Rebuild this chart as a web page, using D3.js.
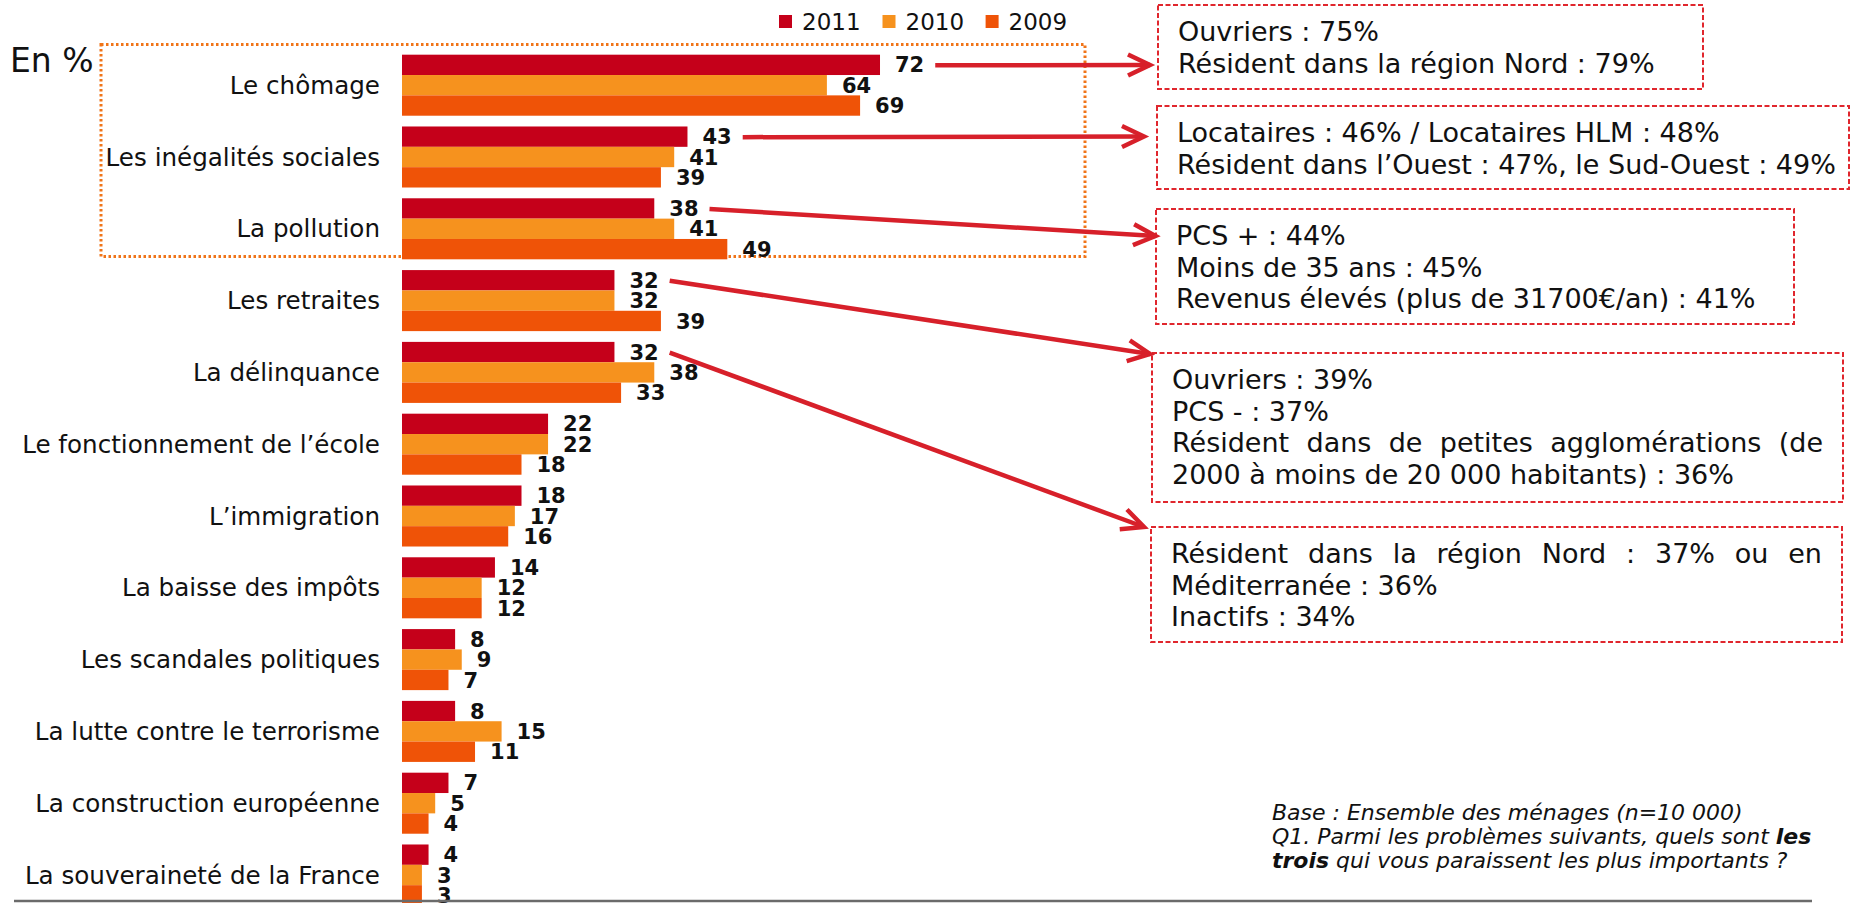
<!DOCTYPE html>
<html>
<head>
<meta charset="utf-8">
<script src="https://cdn.jsdelivr.net/npm/d3@7"></script>
<style>
  body { margin: 0; background: #fff; }
  svg { display: block; font-family: "DejaVu Sans", Verdana, sans-serif; }
</style>
</head>
<body>
<svg id="chart" width="1860" height="903"></svg>
<script>
// data
var categories = ["Le chômage", "Les inégalités sociales", "La pollution", "Les retraites",
  "La délinquance", "Le fonctionnement de l’école", "L’immigration", "La baisse des impôts",
  "Les scandales politiques", "La lutte contre le terrorisme", "La construction européenne",
  "La souveraineté de la France"];
var years = ["2011", "2010", "2009"];
var v2011 = [72, 43, 38, 32, 32, 22, 18, 14, 8, 8, 7, 4];
var v2010 = [64, 41, 41, 32, 38, 22, 17, 12, 9, 15, 5, 3];
var v2009 = [69, 39, 49, 39, 33, 18, 16, 12, 7, 11, 4, 3];
var colors = ["#c5001a", "#f6921e", "#ef5307"];

// callout texts, one box per highlighted category (2011 bar)
var calloutText = [
  ["Ouvriers : 75%", "Résident dans la région Nord : 79%"],
  ["Locataires : 46% / Locataires HLM : 48%", "Résident dans l’Ouest : 47%, le Sud-Ouest : 49%"],
  ["PCS + : 44%", "Moins de 35 ans : 45%", "Revenus élevés (plus de 31700€/an) : 41%"],
  ["Ouvriers : 39%", "PCS - : 37%", "Résident dans de petites agglomérations (de", "2000 à moins de 20 000 habitants) : 36%"],
  ["Résident dans la région Nord : 37% ou en", "Méditerranée : 36%", "Inactifs : 34%"]
];
var calloutJustify = [[], [], [], [2], [0]];
var footLines = [
  [["Base : Ensemble des ménages (n=10 000)", false]],
  [["Q1. Parmi les problèmes suivants, quels sont ", false], ["les", true]],
  [["trois", true], [" qui vous paraissent les plus importants ?", false]]
];

var svg = d3.select("#chart");
var series = [v2011, v2010, v2009];

var x = d3.scaleLinear().domain([0, 100]).range([402, 1065.9]);
var y = d3.scaleBand().domain(categories)
    .range([49.3, 49.3 + 12 * 71.8])
    .paddingInner(0.15).paddingOuter(0.075);
var yi = d3.scaleBand().domain(years).range([0, y.bandwidth()]);

// highlight frame round the top three
svg.append("rect")
    .attr("x", 101).attr("y", 44.5).attr("width", 984).attr("height", 212)
    .attr("fill", "none").attr("stroke", "#f07418")
    .attr("stroke-width", 3).attr("stroke-dasharray", "2.5,2.5");

// bars
var group = svg.selectAll("g.cat")
    .data(categories)
  .enter().append("g")
    .attr("class", "cat")
    .attr("transform", function(d) { return "translate(0," + y(d) + ")"; });

years.forEach(function(yr, j) {
  group.append("rect")
      .attr("x", x(0))
      .attr("y", yi(yr))
      .attr("width", function(d, i) { return x(series[j][i]) - x(0); })
      .attr("height", yi.bandwidth())
      .attr("fill", colors[j]);

  group.append("text")
      .attr("class", "val" + j)
      .attr("x", function(d, i) { return x(series[j][i]) + 15; })
      .attr("y", yi(yr) + yi.bandwidth() / 2 + 7.6)
      .attr("font-size", 21).attr("font-weight", "bold").attr("fill", "#111")
      .text(function(d, i) { return series[j][i]; });
});

// category labels
group.append("text")
    .attr("x", 380)
    .attr("y", y.bandwidth() / 2 + 8.6)
    .attr("text-anchor", "end")
    .attr("font-size", 24.6).attr("fill", "#111")
    .text(function(d) { return d; });

svg.append("text").attr("x", 10).attr("y", 72)
    .attr("font-size", 33).attr("fill", "#111").text("En %");

// legend
var legX = [779, 882.5, 985.6];
years.forEach(function(yr, j) {
  svg.append("rect").attr("x", legX[j]).attr("y", 15)
      .attr("width", 13).attr("height", 13).attr("fill", colors[j]);
  svg.append("text").attr("x", legX[j] + 23).attr("y", 29.5)
      .attr("font-size", 23).attr("fill", "#111").text(yr);
});

// callout boxes
var boxes = [
  {x: 1158, y: 5, w: 545, h: 84, tip: [1150, 65]},
  {x: 1157, y: 106, w: 692, h: 83, tip: [1144, 136.5]},
  {x: 1156, y: 209, w: 638, h: 115, tip: [1155.5, 236]},
  {x: 1152, y: 353, w: 691, h: 149, tip: [1150, 354]},
  {x: 1151, y: 527, w: 691, h: 115, tip: [1144, 527]}
];
var red = "#d7202a";

svg.append("defs").append("marker")
    .attr("id", "arrow")
    .attr("markerUnits", "userSpaceOnUse")
    .attr("markerWidth", 40).attr("markerHeight", 40)
    .attr("viewBox", "-30 -20 40 40")
    .attr("refX", 0).attr("refY", 0)
    .attr("orient", "auto")
  .append("path")
    .attr("d", "M-22,-10.5L0,0L-22,10.5")
    .attr("fill", "none").attr("stroke", red).attr("stroke-width", 4.5);

boxes.forEach(function(b, k) {
  svg.append("rect")
      .attr("x", b.x).attr("y", b.y).attr("width", b.w).attr("height", b.h)
      .attr("fill", "#fff").attr("stroke", "#e0262d")
      .attr("stroke-width", 2).attr("stroke-dasharray", "5,2.5");

  calloutText[k].forEach(function(line, li) {
    var t = svg.append("text")
        .attr("x", b.x + 20).attr("y", b.y + 36 + li * 31.7)
        .attr("font-size", 27).attr("fill", "#111")
        .text(line);
    if (calloutJustify[k].indexOf(li) >= 0) {
      var target = b.w - 40;
      var natural = t.node().getComputedTextLength();
      var gaps = line.split(" ").length - 1;
      t.attr("word-spacing", (target - natural) / gaps);
    }
  });

  // connector from the 2011 value label
  var lab = svg.selectAll("text.val0").filter(function(d, i) { return i === k; });
  var sx = x(v2011[k]) + 15 + lab.node().getComputedTextLength() + 11;
  var sy = y(categories[k]) + yi("2011") + yi.bandwidth() / 2 + 0.5;
  svg.append("line")
      .attr("x1", sx).attr("y1", sy)
      .attr("x2", b.tip[0]).attr("y2", b.tip[1])
      .attr("stroke", red).attr("stroke-width", 4.5)
      .attr("marker-end", "url(#arrow)");
});

// footnote
footLines.forEach(function(parts, li) {
  var t = svg.append("text")
      .attr("x", 1272).attr("y", 820 + li * 24)
      .attr("font-size", 22).attr("font-style", "italic").attr("fill", "#111");
  parts.forEach(function(p) {
    t.append("tspan").attr("font-weight", p[1] ? "bold" : "normal").text(p[0]);
  });
});

// bottom rule
svg.append("line")
    .attr("x1", 14).attr("x2", 1812).attr("y1", 901).attr("y2", 901)
    .attr("stroke", "#6b6b6b").attr("stroke-width", 2.5);
</script>
</body>
</html>
